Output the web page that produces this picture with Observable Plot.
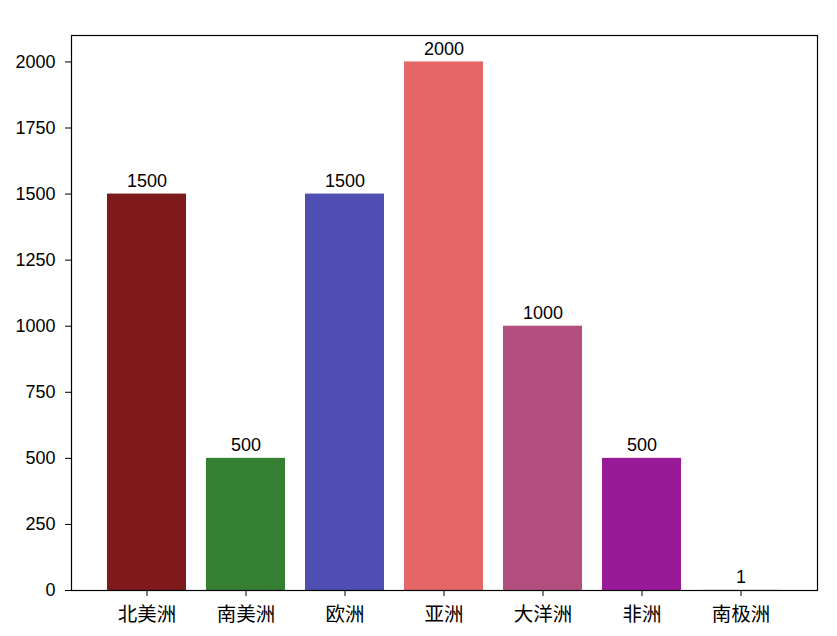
<!DOCTYPE html>
<html>
<head>
<meta charset="utf-8">
<script src="https://cdn.jsdelivr.net/npm/d3@7"></script>
<script src="https://cdn.jsdelivr.net/npm/@observablehq/plot@0.6"></script>
<style>
  html, body { margin: 0; padding: 0; background: #fff; }
  #chart svg { display: block; }
</style>
</head>
<body>
<div id="chart"></div>
<script>
const categories = ["北美洲", "南美洲", "欧洲", "亚洲", "大洋洲", "非洲", "南极洲"];
const values = [1500, 500, 1500, 2000, 1000, 500, 1];
const colors = ["#7f1a1c", "#357f33", "#4f4fb3", "#e56666", "#b24f7f", "#991a99", "#cccccc"];
const yTicks = [0, 250, 500, 750, 1000, 1250, 1500, 1750, 2000];

const data = categories.map((c, i) => ({cat: c, val: values[i], color: colors[i]}));

const chart = Plot.plot({
  width: 837,
  height: 636,
  marginLeft: 71,
  marginRight: 20,
  marginTop: 35,
  marginBottom: 46,
  style: {fontFamily: "'Liberation Sans', 'Noto Sans CJK SC', sans-serif", fontSize: "18px", background: "#fff", color: "#000"},
  x: {type: "band", domain: categories, paddingInner: 0.2, paddingOuter: 0.34, align: 0.5},
  y: {domain: [0, 2100]},
  color: {type: "identity"},
  marks: [
    Plot.barY(data, {x: "cat", y: "val", fill: "color"}),
    Plot.text(data, {x: "cat", y: "val", text: d => String(d.val), dy: -7, lineAnchor: "bottom", fontSize: 18, fill: "#000"}),
    Plot.axisY({ticks: yTicks, tickFormat: d => String(d), tickSize: 6, tickPadding: 10, label: null, fontSize: 18}),
    Plot.axisX({tickSize: 6, tickPadding: 11, label: null, fontSize: 19.5, fontFamily: "'Noto Sans CJK SC', sans-serif"}),
    Plot.frame({stroke: "#000", strokeWidth: 1.2})
  ]
});
document.getElementById("chart").appendChild(chart);
</script>
</body>
</html>
